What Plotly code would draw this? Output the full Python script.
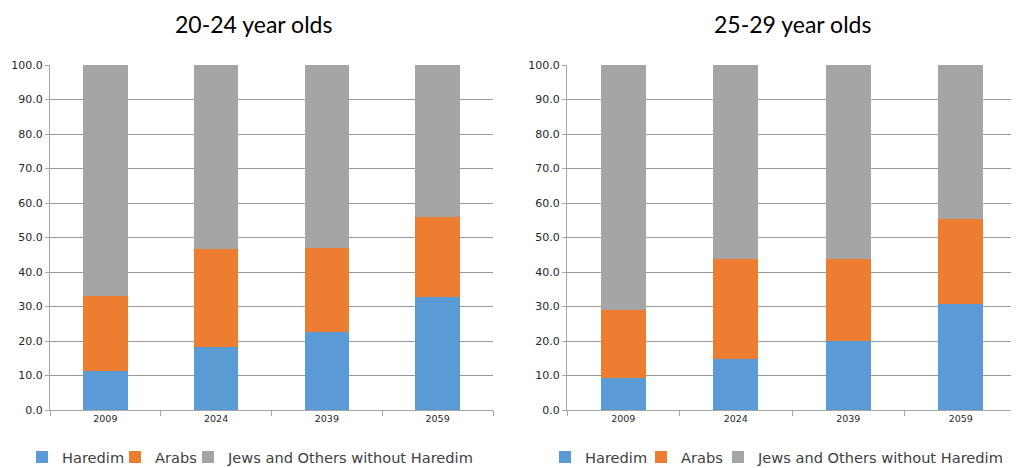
import plotly.graph_objects as go

years = ["2009", "2024", "2039", "2059"]
series_names = ["Haredim", "Arabs", "Jews and Others without Haredim"]
colors = ["#5B9BD5", "#ED7D31", "#A5A5A5"]

# 20-24 year olds
haredim_20 = [11.2, 18.2, 22.7, 32.7]
arabs_20 = [21.8, 28.6, 24.4, 23.3]
jews_20 = [67.0, 53.2, 52.9, 44.0]

# 25-29 year olds
haredim_25 = [9.3, 14.8, 19.9, 30.7]
arabs_25 = [19.8, 29.0, 23.9, 24.7]
jews_25 = [70.9, 56.2, 56.2, 44.6]

titles = ["20-24 year olds", "25-29 year olds"]

TICKFONT = "DejaVu Sans, Verdana, sans-serif"
TITLEFONT = "Lato, Liberation Sans, sans-serif"

# page body has an 8px offset; figure sized to fit the visible window
W, H = 1011, 460

def px_x(v):
    return (v - 8) / W

def px_y(v):
    return 1 - (v - 8) / H

# left edge (screen px) of each single-entry legend box
legend_left_px = [[22, 115, 188], [545, 641, 718]]

fig = go.Figure()

panels = [
    ([haredim_20, arabs_20, jews_20], "x", "y"),
    ([haredim_25, arabs_25, jews_25], "x2", "y2"),
]
legend_layouts = {}
k = 0
for p, (vals, xa, ya) in enumerate(panels):
    for j, (name, v, c) in enumerate(zip(series_names, vals, colors)):
        k += 1
        lg = "legend" if k == 1 else f"legend{k}"
        fig.add_trace(go.Bar(x=years, y=v, name=name, marker=dict(color=c, line=dict(width=0)),
                             xaxis=xa, yaxis=ya, legend=lg, width=0.4))
        legend_layouts[lg] = dict(orientation="h", x=px_x(legend_left_px[p][j]), xanchor="left",
                                  y=px_y(457), yanchor="middle", itemwidth=30,
                                  bgcolor="rgba(0,0,0,0)",
                                  font=dict(size=14.6, color="#404040", family=TICKFONT))

axis_common_x = dict(type="category", showgrid=False, showline=True, linecolor="#A6A6A6",
                     linewidth=1, ticks="outside", tickson="boundaries", ticklen=5,
                     tickcolor="#A6A6A6", tickfont=dict(size=9.5, color="#262626", family=TICKFONT))
axis_common_y = dict(range=[0, 100], dtick=10, tickformat=".1f", showgrid=True,
                     gridcolor="#999999", gridwidth=1, showline=True, linecolor="#A6A6A6",
                     ticks="outside", ticklen=4, tickcolor="#A6A6A6", zeroline=False,
                     tickfont=dict(size=11, color="#262626", family=TICKFONT))

fig.update_layout(
    width=W, height=H,
    margin=dict(l=0, r=0, t=0, b=0, autoexpand=False),
    paper_bgcolor="white", plot_bgcolor="white",
    barmode="stack",
    font=dict(family=TICKFONT, color="#404040"),
    xaxis=dict(domain=[px_x(50), px_x(493)], anchor="y", **axis_common_x),
    yaxis=dict(domain=[px_y(410), px_y(65)], anchor="x", **axis_common_y),
    xaxis2=dict(domain=[px_x(567), min(1.0, px_x(1017))], anchor="y2", **axis_common_x),
    yaxis2=dict(domain=[px_y(410), px_y(65)], anchor="x2", **axis_common_y),
    showlegend=True,
    annotations=[
        dict(text=titles[0], x=px_x(253.5), y=px_y(24), xref="paper", yref="paper",
             xanchor="center", yanchor="middle",
             showarrow=False, font=dict(size=23, color="black", family=TITLEFONT)),
        dict(text=titles[1], x=px_x(792), y=px_y(24), xref="paper", yref="paper",
             xanchor="center", yanchor="middle",
             showarrow=False, font=dict(size=23, color="black", family=TITLEFONT)),
    ],
    **legend_layouts,
)

fig.write_html("out.html")
